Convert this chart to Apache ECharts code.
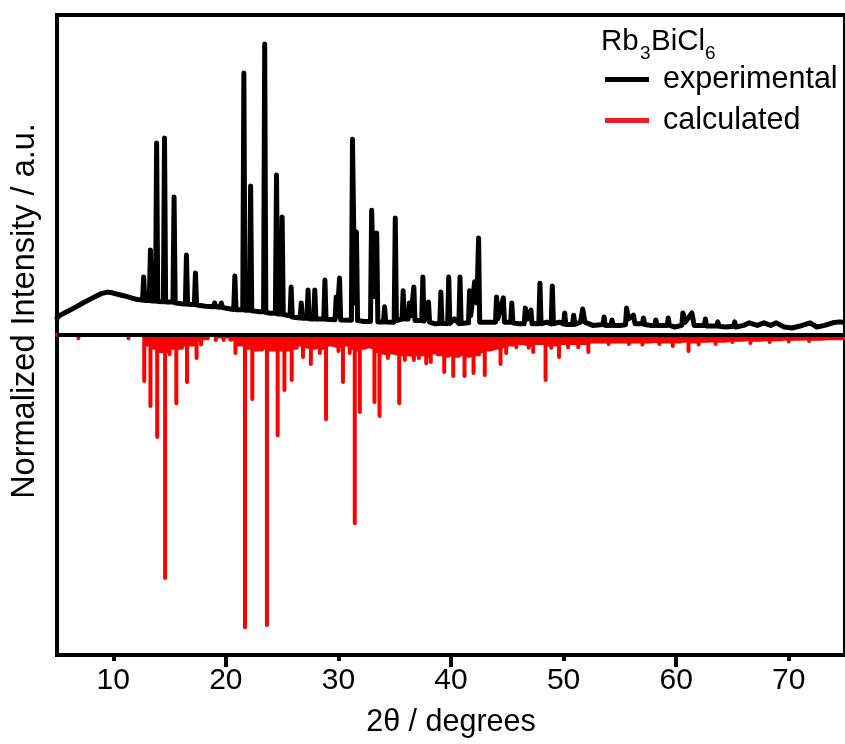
<!DOCTYPE html>
<html><head><meta charset="utf-8">
<script src="https://cdn.jsdelivr.net/npm/echarts@6/dist/echarts.min.js"></script>
<style>html,body{margin:0;padding:0;background:#fff}#c{width:845px;height:744px}</style>
</head><body><div id="c"></div>
<script>
// Experimental pattern (2θ, normalized intensity)
const expTheta = [5.0,5.3,6.0,6.7,7.3,8.0,8.5,9.0,9.5,9.9,10.3,11.0,11.6,12.0,
12.6,12.7,12.8,13.2,13.3,13.4,13.75,13.85,13.95,14.45,14.55,14.65,15.3,15.4,15.5,16.0,
16.4,16.5,16.6,17.2,17.3,17.4,18.2,18.9,19.0,19.1,19.5,19.6,19.7,20.3,20.7,20.8,20.9,
21.5,21.6,21.7,22.1,22.2,22.3,22.9,23.35,23.45,23.55,24.0,24.4,24.5,24.6,24.9,25.0,25.1,
25.7,25.8,25.9,26.6,26.7,26.8,27.2,27.3,27.4,27.8,27.9,28.0,28.7,28.8,28.9,29.7,29.8,29.9,
30.1,30.2,31.15,31.25,31.45,31.6,31.7,32.3,32.85,32.95,33.15,33.4,33.5,34.0,34.1,34.2,
34.95,35.05,35.15,35.65,35.75,35.85,36.2,36.3,36.45,36.7,36.8,37.4,37.5,37.6,37.9,38.0,38.1,
38.6,39.0,39.1,39.2,39.7,39.8,39.9,40.3,40.7,40.8,40.9,41.55,41.65,41.75,42.1,42.3,42.45,42.55,
43.2,43.95,44.05,44.15,44.65,44.75,45.3,45.4,45.5,46.0,46.5,46.6,46.8,47.1,47.2,47.8,47.9,48.0,
48.5,48.9,49.0,49.1,49.6,50.0,50.1,50.2,50.8,50.9,51.0,51.5,51.7,51.9,52.6,53.5,53.6,53.7,
54.2,54.3,54.4,55.0,55.5,55.6,55.75,56.2,56.35,57.0,57.1,57.2,57.7,58.1,58.2,58.3,59.2,59.3,59.4,
59.9,60.5,60.6,60.8,61.4,61.6,62.5,62.6,62.7,63.6,63.7,63.8,64.4,65.1,65.2,65.3,66.0,66.5,67.2,
67.8,68.4,68.9,69.6,70.3,71.0,71.9,72.5,73.2,73.9,74.5,75.0];
const expIntensity = [.053,.062,.075,.088,.1,.113,.122,.13,.134,.132,.128,.122,.116,.112,
.109,.181,.108,.108,.266,.106,.106,.6,.105,.104,.616,.103,.103,.431,.1,.098,
.097,.25,.096,.095,.194,.094,.09,.088,.1,.088,.087,.1,.086,.082,.08,.184,.079,
.079,.819,.077,.077,.466,.076,.073,.073,.909,.07,.068,.068,.5,.066,.066,.369,.064,
.06,.15,.056,.053,.1,.052,.052,.141,.051,.05,.141,.05,.05,.172,.049,.048,.119,.06,
.178,.047,.046,.612,.1,.322,.045,.042,.042,.39,.12,.319,.041,.041,.088,.041,
.04,.366,.045,.05,.138,.05,.05,.1,.06,.15,.045,.045,.181,.043,.06,.103,.04,
.035,.036,.134,.036,.036,.181,.036,.05,.036,.181,.036,.038,.138,.06,.166,.1,.303,.04,
.04,.04,.119,.05,.116,.04,.04,.1,.038,.035,.035,.084,.05,.078,.035,.035,.162,.035,
.04,.035,.153,.035,.04,.035,.069,.033,.033,.062,.033,.04,.081,.04,.03,.033,.056,.03,
.03,.047,.03,.03,.032,.084,.05,.062,.035,.035,.053,.033,.03,.03,.047,.03,.03,.053,.03,
.025,.03,.069,.04,.069,.03,.03,.05,.028,.028,.041,.027,.025,.027,.041,.025,.03,.038,.03,
.038,.03,.038,.025,.022,.028,.038,.025,.03,.038,.041,.04];

// Calculated reflections (2θ, negative normalized intensity)
const calcTheta = [6.9,11.35,12.75,13.3,13.9,14.6,15.0,15.6,16.1,16.55,17.4,17.8,18.4,19.1,19.8,20.4,
20.85,21.7,22.35,22.9,23.2,23.65,24.6,25.2,25.85,26.3,26.85,27.2,27.55,27.9,28.35,28.9,29.4,30.0,
30.4,31.0,31.45,31.9,32.3,32.7,33.2,33.65,34.0,34.4,34.9,35.4,35.9,36.3,36.7,37.15,37.8,38.2,38.8,
39.4,39.8,40.2,40.7,41.2,41.6,42.0,42.5,43.0,43.5,44.0,44.4,44.9,45.3,45.8,46.4,46.9,47.3,47.8,
48.4,48.9,49.6,50.0,50.4,50.9,51.3,51.8,52.2,52.6,53.0,53.5,54.0,54.6,55.2,55.8,56.4,57.0,57.6,
58.5,59.1,59.7,60.4,61.1,61.6,62.0,62.8,63.5,64.2,65.0,65.8,66.6,67.4,68.3,69.1,70.0,70.8,71.8,
72.7,73.6,74.6];
const calcIntensity = [-0.01,-0.01,-0.144,-0.222,-0.319,-0.759,-0.06,-0.213,-0.04,-0.147,-0.072,-0.03,-0.01,-0.016,-0.016,-0.015,
-0.056,-0.913,-0.2,-0.04,-0.03,-0.906,-0.313,-0.172,-0.141,-0.03,-0.069,-0.03,-0.091,-0.04,-0.056,-0.263,-0.03,-0.05,
-0.147,-0.056,-0.588,-0.241,-0.04,-0.03,-0.209,-0.253,-0.05,-0.072,-0.05,-0.213,-0.078,-0.06,-0.078,-0.072,-0.088,-0.084,-0.04,
-0.116,-0.05,-0.128,-0.05,-0.128,-0.06,-0.119,-0.06,-0.125,-0.04,-0.04,-0.091,-0.056,-0.03,-0.038,-0.03,-0.04,-0.053,-0.03,
-0.141,-0.04,-0.069,-0.03,-0.038,-0.03,-0.038,-0.03,-0.053,-0.025,-0.025,-0.025,-0.028,-0.02,-0.025,-0.028,-0.02,-0.03,-0.02,
-0.028,-0.022,-0.034,-0.02,-0.05,-0.025,-0.03,-0.02,-0.028,-0.02,-0.022,-0.018,-0.025,-0.018,-0.022,-0.015,-0.02,-0.015,-0.019,
-0.015,-0.016,-0.016];
// level of the dense weak-reflection band following each reflection
const calcBand = [0,0,-0.03,-0.04,-0.05,-0.05,-0.04,-0.04,-0.03,-0.03,-0.015,-0.01,0,-0.005,-0.005,-0.01,
-0.03,-0.04,-0.045,-0.045,-0.04,-0.045,-0.045,-0.045,-0.04,-0.03,-0.035,-0.04,-0.04,-0.035,-0.04,-0.03,-0.035,-0.035,
-0.03,-0.04,-0.045,-0.04,-0.035,-0.04,-0.05,-0.055,-0.06,-0.055,-0.06,-0.06,-0.06,-0.065,-0.06,-0.06,-0.065,-0.055,-0.06,
-0.065,-0.06,-0.065,-0.06,-0.065,-0.06,-0.06,-0.05,-0.045,-0.04,-0.04,-0.035,-0.03,-0.03,-0.025,-0.03,-0.03,-0.025,-0.025,
-0.03,-0.03,-0.025,-0.025,-0.025,-0.025,-0.025,-0.025,-0.02,-0.02,-0.02,-0.02,-0.02,-0.02,-0.02,-0.02,-0.02,-0.02,-0.018,
-0.02,-0.02,-0.02,-0.015,-0.02,-0.02,-0.018,-0.015,-0.018,-0.015,-0.015,-0.012,-0.015,-0.012,-0.013,-0.01,-0.012,-0.01,-0.012,
-0.01,-0.01,-0.01];

const xLabelValues = [10,20,30,40,50,60,70];
const xShortTicks = [10,30,50,70];
const xLongTicks = [20,40,60];
const seriesNames = ['experimental','calculated'];

const FONT = 'Liberation Sans, Arial, sans-serif';
const expData = expTheta.map((t,i)=>[t, expIntensity[i]]);
const calcData = [[5,0]];
let prevBand = 0;
calcTheta.forEach((t,i)=>{
  calcData.push([t,prevBand],[t,calcIntensity[i]],[t,calcBand[i]]);
  prevBand = calcBand[i];
});
calcData.push([75,prevBand]);

const chart = echarts.init(document.getElementById('c'), null, {renderer:'canvas'});
chart.setOption({
  animation:false,
  backgroundColor:'#fff',
  grid:{left:57, top:15, width:794.5, bottom:89, show:true, borderColor:'#000', borderWidth:4, backgroundColor:'transparent'},
  xAxis:[{
    type:'value', min:5, max:75,
    axisLine:{show:true, onZero:false, lineStyle:{color:'#000', width:4}},
    axisTick:{show:true, customValues:xShortTicks, length:6, lineStyle:{color:'#000', width:4}},
    axisLabel:{customValues:xLabelValues, fontSize:30, fontFamily:FONT, color:'#000', margin:11},
    splitLine:{show:false},
    name:'2θ / degrees', nameLocation:'middle', nameGap:52,
    nameTextStyle:{fontSize:30.5, fontFamily:FONT, color:'#000'}
  },{
    type:'value', min:5, max:75, position:'bottom',
    axisLine:{show:false, onZero:false},
    axisTick:{show:true, customValues:xLongTicks, length:12, lineStyle:{color:'#000', width:4}},
    axisLabel:{show:false}, splitLine:{show:false}
  }],
  yAxis:{
    type:'value', min:-1, max:1,
    axisLine:{show:false},
    axisTick:{show:true, inside:true, customValues:[0], length:5, lineStyle:{color:'#000', width:3}},
    axisLabel:{show:false}, splitLine:{show:false}
  },
  legend:{
    data:seriesNames, orient:'vertical', left:600, top:59,
    icon:'rect', itemWidth:44, itemHeight:5, itemGap:10,
    textStyle:{fontSize:30.5, fontFamily:FONT, color:'#000', lineHeight:31, padding:[0,0,0,9]}
  },
  graphic:[
    {type:'text', left:601, top:27, style:{text:'Rb', fontSize:29.5, fontFamily:FONT, fill:'#000'}},
    {type:'text', left:640, top:44, style:{text:'3', fontSize:19, fontFamily:FONT, fill:'#000'}},
    {type:'text', left:651, top:27, style:{text:'BiCl', fontSize:29.5, fontFamily:FONT, fill:'#000'}},
    {type:'text', left:705, top:44, style:{text:'6', fontSize:19, fontFamily:FONT, fill:'#000'}},
    {type:'text', x:25, y:311, rotation:Math.PI/2,
     style:{text:'Normalized Intensity / a.u.', fontSize:32.5, fontFamily:FONT, fill:'#000', align:'center', verticalAlign:'middle'}}
  ],
  series:[
    {name:seriesNames[1], type:'line', data:calcData, showSymbol:false, z:2,
     lineStyle:{color:'#ff0000', width:4, cap:'round', join:'round'},
     areaStyle:{color:'#ff0000', opacity:1, origin:0},
     itemStyle:{color:'#ee1c25'}},
    {name:seriesNames[0], type:'line', data:expData, showSymbol:false, z:3,
     lineStyle:{color:'#000', width:5, cap:'round', join:'round'}, itemStyle:{color:'#000'},
     markLine:{silent:true, symbol:'none', label:{show:false}, animation:false,
       lineStyle:{color:'#000', width:4, type:'solid'}, data:[{yAxis:0}]}}
  ]
});
</script></body></html>
